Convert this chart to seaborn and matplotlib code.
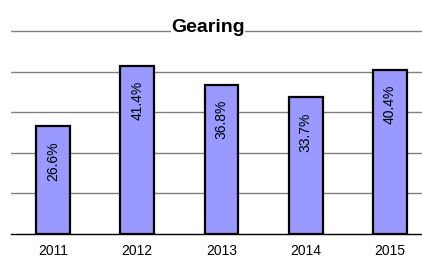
import matplotlib
matplotlib.use("Agg")
import matplotlib.pyplot as plt
import seaborn as sns
import numpy as np

years = ["2011", "2012", "2013", "2014", "2015"]
gearing = [26.6, 41.4, 36.8, 33.7, 40.4]
labels = ["26.6%", "41.4%", "36.8%", "33.7%", "40.4%"]
title = "Gearing"

sns.set_style("white")
plt.rcParams['font.family'] = ['Liberation Sans', 'DejaVu Sans']
plt.rcParams['text.color'] = 'black'
plt.rcParams['xtick.color'] = 'black'
plt.rcParams['axes.labelcolor'] = 'black'

fig = plt.figure(figsize=(4.22, 2.58), dpi=100)
ax = fig.add_axes([11/422, 24/258, 421/422, 205/258])

sns.barplot(x=years, y=gearing, color="#9999FF", saturation=1, width=0.4,
            edgecolor="black", linewidth=1.6, ax=ax, zorder=3)

ax.set_ylim(0, 50.5)
ax.set_xlim(-0.5, 4.5)
ax.set_yticks([10, 20, 30, 40, 50])
ax.set_yticklabels([])
ax.tick_params(axis='y', length=0)
ax.yaxis.grid(True, color="#808080", linewidth=1.0)
ax.set_axisbelow(True)
for s in ["top", "right", "left"]:
    ax.spines[s].set_visible(False)
ax.spines["bottom"].set_color("black")
ax.spines["bottom"].set_linewidth(1.0)

ax.set_xticks(range(len(years)))
ax.set_xticklabels(years, fontsize=10, color='black')
ax.tick_params(axis='x', which='major', length=0, pad=7)
ax.set_xticks(np.arange(-0.5, 5.0, 1.0), minor=True)
ax.tick_params(axis='x', which='minor', length=4, width=1, color="#404040", direction='out')
ax.set_xlabel("")
ax.set_ylabel("")

for i, (v, lab) in enumerate(zip(gearing, labels)):
    ax.annotate(lab, (i, v), xytext=(0, -15), textcoords='offset pixels',
                rotation=90, ha='center', va='top', fontsize=10, color='black', zorder=4)

fig.text(208/422, 1 - 31.5/258, title, ha='center', va='baseline',
         fontsize=14, fontweight='bold', color='black',
         bbox=dict(facecolor='white', edgecolor='none', pad=0))

fig.savefig("out.png", dpi=100)
